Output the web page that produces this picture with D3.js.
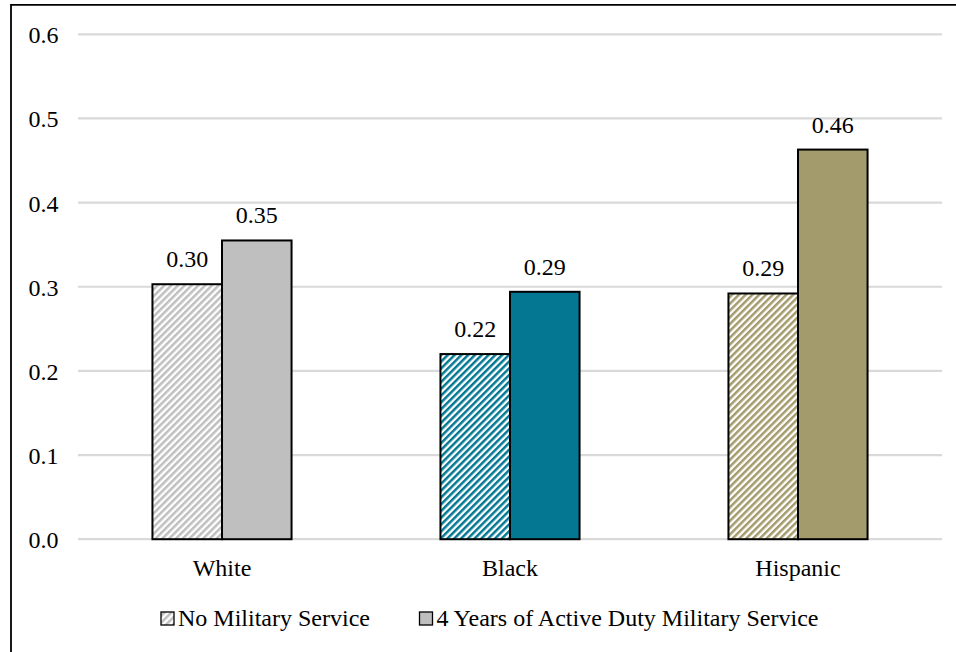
<!DOCTYPE html>
<html>
<head>
<meta charset="utf-8">
<script src="https://cdn.jsdelivr.net/npm/d3@7"></script>
<style>
  html, body { margin: 0; padding: 0; background: #fff; }
  svg text { font-family: "Times New Roman", "Liberation Serif", Tinos, "DejaVu Serif", serif !important; }
</style>
</head>
<body>
<svg id="chart" width="956" height="652"></svg>
<script>
// Groups and series
const categories = ["White", "Black", "Hispanic"];
const seriesNames = ["No Military Service", "4 Years of Active Duty Military Service"];
const noService = [0.303, 0.220, 0.292];
const activeDuty = [0.355, 0.294, 0.463];
const yTicks = [0.0, 0.1, 0.2, 0.3, 0.4, 0.5, 0.6];

// Solid colour per group; the "no service" bar uses the same colour as diagonal stripes
const groupColors = ["#bfbfbf", "#047893", "#a39b6b"];

const svg = d3.select("#chart");
const W = 956, H = 652;
const plot = { left: 78, right: 942, top: 34.3, bottom: 539.2 };
const FS = 24;

const x = d3.scaleBand()
  .domain(categories)
  .range([plot.left, plot.right])
  .paddingInner(0.517)
  .paddingOuter(0.2585);

const xSub = d3.scaleBand()
  .domain([0, 1])
  .range([0, x.bandwidth()]);

const y = d3.scaleLinear()
  .domain([0, 0.6])
  .range([plot.bottom, plot.top]);

// Stripe patterns
const defs = svg.append("defs");
groupColors.forEach((c, i) => {
  const p = defs.append("pattern")
    .attr("id", "hatch" + i)
    .attr("patternUnits", "userSpaceOnUse")
    .attr("width", 4.8)
    .attr("height", 4.8)
    .attr("patternTransform", "rotate(45)");
  p.append("rect").attr("width", 4.8).attr("height", 4.8).attr("fill", "#fff");
  p.append("rect").attr("width", 2.5).attr("height", 4.8).attr("fill", c);
});

// Outer frame (left and top edges)
svg.append("path")
  .attr("d", `M11,${H} V4.9 H${W}`)
  .attr("fill", "none")
  .attr("stroke", "#000")
  .attr("stroke-width", 1.8);

// Gridlines
svg.append("g")
  .selectAll("line")
  .data(yTicks)
  .join("line")
  .attr("x1", plot.left)
  .attr("x2", plot.right)
  .attr("y1", d => y(d))
  .attr("y2", d => y(d))
  .attr("stroke", "#d9d9d9")
  .attr("stroke-width", 2.2);

// Y axis labels
const yAxis = d3.axisLeft(y).tickValues(yTicks).tickFormat(d3.format(".1f")).tickSize(0).tickPadding(19.5);
const yg = svg.append("g").attr("transform", `translate(${plot.left},0)`).call(yAxis);
yg.select(".domain").remove();
yg.attr("font-size", FS).attr("font-family", null);
yg.selectAll("text").attr("fill", "#000").attr("dy", "0.35em");

// X axis labels
const xAxis = d3.axisBottom(x).tickSize(0).tickPadding(20);
const xg = svg.append("g").attr("transform", `translate(0,${y(0)})`).call(xAxis);
xg.select(".domain").remove();
xg.attr("font-size", FS).attr("font-family", null);
xg.selectAll("text").attr("fill", "#000");

// Bars
const rows = [];
categories.forEach((c, i) => {
  rows.push({ cat: c, s: 0, v: noService[i], fill: `url(#hatch${i})` });
  rows.push({ cat: c, s: 1, v: activeDuty[i], fill: groupColors[i] });
});

svg.append("g")
  .selectAll("rect")
  .data(rows)
  .join("rect")
  .attr("x", d => x(d.cat) + xSub(d.s))
  .attr("width", xSub.bandwidth())
  .attr("y", d => y(d.v))
  .attr("height", d => y(0) - y(d.v))
  .attr("fill", d => d.fill)
  .attr("stroke", "#000")
  .attr("stroke-width", 2);

// Value labels
svg.append("g")
  .selectAll("text")
  .data(rows)
  .join("text")
  .attr("x", d => x(d.cat) + xSub(d.s) + xSub.bandwidth() / 2)
  .attr("y", d => y(d.v) - 17)
  .attr("text-anchor", "middle")
  .attr("font-size", FS)
  .attr("fill", "#000")
  .text(d => d3.format(".2f")(d.v));

// Legend
const legend = svg.append("g").attr("transform", "translate(0,626)");
const legendItems = [
  { label: seriesNames[0], fill: "url(#hatch0)", x: 161 },
  { label: seriesNames[1], fill: groupColors[0], x: 419.5 }
];
legendItems.forEach(it => {
  legend.append("rect")
    .attr("x", it.x)
    .attr("y", -14)
    .attr("width", 13)
    .attr("height", 13)
    .attr("fill", it.fill)
    .attr("stroke", "#000")
    .attr("stroke-width", 1.3);
  legend.append("text")
    .attr("x", it.x + 17)
    .attr("y", 0)
    .attr("font-size", FS)
    .attr("fill", "#000")
    .text(it.label);
});
</script>
</body>
</html>
